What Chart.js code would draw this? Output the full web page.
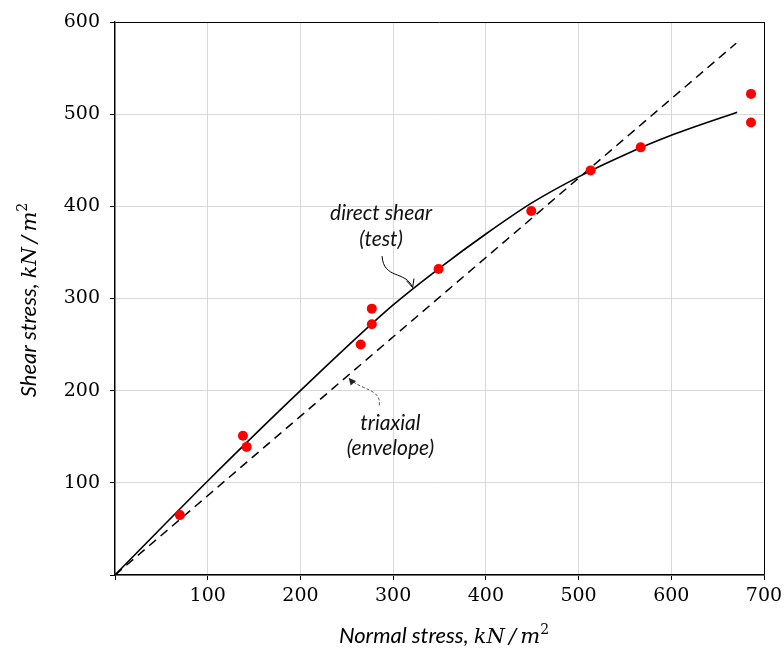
<!DOCTYPE html>
<html>
<head>
<meta charset="utf-8">
<script src="https://cdn.jsdelivr.net/npm/chart.js@4.4.1/dist/chart.umd.min.js"></script>
<style>
  html, body { margin: 0; padding: 0; background: #fff; }
  #wrap { width: 784px; height: 648px; }
</style>
</head>
<body>
<div id="wrap"><canvas id="chart" width="784" height="648"></canvas></div>
<script>
// test points (direct shear)
const testNormal = [70, 138, 142, 265, 277, 277, 349, 449, 513, 567, 686, 686];
const testShear = [65, 151, 139, 250, 272, 289, 332, 395, 439, 464, 522, 491];
// direct shear curve
const curveNormal = [0, 100, 200, 300, 350, 400, 450, 500, 550, 600, 671];
const curveShear = [0, 102, 200, 293, 333, 370, 404, 432, 456, 477, 502];
// triaxial envelope
const envelopeNormal = [0, 670];
const envelopeShear = [0, 577];
const xTicks = [0, 100, 200, 300, 400, 500, 600, 700];
const yTicks = [0, 100, 200, 300, 400, 500, 600];

const toPoints = (xs, ys) => xs.map((x, i) => ({ x, y: ys[i] }));

const SANS = "Lato, 'Open Sans', sans-serif";
const SERIF = "'DejaVu Serif', serif";

function drawParts(ctx, parts, cx, cy) {
  let total = 0;
  parts.forEach((p) => { ctx.font = p.font; total += ctx.measureText(p.text).width; });
  let x = cx - total / 2;
  ctx.textBaseline = "alphabetic";
  ctx.textAlign = "left";
  parts.forEach((p) => {
    ctx.font = p.font;
    ctx.fillText(p.text, x, cy + (p.dy || 0));
    x += ctx.measureText(p.text).width;
  });
}

function titleParts(label) {
  return [
    { text: label + " ", font: `italic 22px ${SANS}` },
    { text: "kN\u2009/\u2009m", font: `italic 21px ${SERIF}` },
    { text: "2", font: `14px ${SERIF}`, dy: -9 },
  ];
}

function arrowHead(ctx, tipX, tipY, fromX, fromY, size, filled) {
  const a = Math.atan2(tipY - fromY, tipX - fromX);
  ctx.beginPath();
  ctx.moveTo(tipX - size * Math.cos(a - 0.45), tipY - size * Math.sin(a - 0.45));
  ctx.lineTo(tipX, tipY);
  ctx.lineTo(tipX - size * Math.cos(a + 0.45), tipY - size * Math.sin(a + 0.45));
  if (filled) { ctx.closePath(); ctx.fill(); } else { ctx.stroke(); }
}

const annotations = {
  id: "annotations",
  afterDraw(chart) {
    const { ctx, scales } = chart;
    const px = (v) => scales.x.getPixelForValue(v);
    const py = (v) => scales.y.getPixelForValue(v);
    ctx.save();
    ctx.fillStyle = "#111";

    // curve labels
    ctx.font = `italic 21px ${SANS}`;
    ctx.textAlign = "center";
    ctx.textBaseline = "middle";
    ctx.fillText("direct shear", px(287), py(392));
    ctx.fillText("(test)", px(287), py(364));
    ctx.fillText("triaxial", px(297), py(165));
    ctx.fillText("(envelope)", px(297), py(138));

    // arrow to direct shear curve
    ctx.strokeStyle = "#000";
    ctx.lineWidth = 1;
    ctx.beginPath();
    ctx.moveTo(px(288), py(346));
    ctx.bezierCurveTo(px(290), py(320), px(313), py(331), px(321), py(312));
    ctx.stroke();
    arrowHead(ctx, px(321), py(312), px(318), py(322), 9, false);

    // arrow to triaxial envelope
    ctx.strokeStyle = "#555";
    ctx.fillStyle = "#222";
    ctx.setLineDash([3, 2]);
    ctx.beginPath();
    ctx.moveTo(px(285), py(184));
    ctx.bezierCurveTo(px(288), py(202), px(264), py(201), px(253), py(213));
    ctx.stroke();
    ctx.setLineDash([]);
    arrowHead(ctx, px(252), py(214), px(258), py(207), 8, true);

    // axis titles
    ctx.fillStyle = "#000";
    drawParts(ctx, titleParts("Normal stress,"), 444, 643);
    ctx.translate(36, 300);
    ctx.rotate(-Math.PI / 2);
    drawParts(ctx, titleParts("Shear stress,"), 0, 0);
    ctx.restore();
  },
};

const gridColor = (max) => (c) => (c.tick && c.tick.value === max ? "#000" : "#d9d9d9");

new Chart(document.getElementById("chart"), {
  type: "scatter",
  data: {
    datasets: [
      {
        label: "Test",
        data: toPoints(testNormal, testShear),
        backgroundColor: "#ff0000",
        borderColor: "#ff0000",
        pointRadius: 5,
        pointBorderWidth: 0,
      },
      {
        label: "Direct shear",
        data: toPoints(curveNormal, curveShear),
        showLine: true,
        borderColor: "#000",
        borderWidth: 1.6,
        pointRadius: 0,
        cubicInterpolationMode: "monotone",
      },
      {
        label: "Triaxial",
        data: toPoints(envelopeNormal, envelopeShear),
        showLine: true,
        borderColor: "#000",
        borderWidth: 1.5,
        borderDash: [9, 6],
        pointRadius: 0,
      },
    ],
  },
  options: {
    responsive: false,
    animation: false,
    layout: { padding: { top: 22, right: 20, left: 0, bottom: 0 } },
    plugins: { legend: { display: false }, tooltip: { enabled: false } },
    scales: {
      x: {
        type: "linear",
        min: 0,
        max: 700,
        afterBuildTicks: (scale) => { scale.ticks = xTicks.map((value) => ({ value })); },
        afterFit: (scale) => {
          scale.height = 73;
          scale.paddingRight = 0;
          scale.paddingLeft = 0;
        },
        grid: { color: gridColor(700), tickColor: "#000", tickLength: 5, lineWidth: 1 },
        border: { color: "#000", width: 1.4 },
        ticks: {
          color: "#000",
          padding: 5,
          font: { family: SERIF, size: 19 },
          callback: (v) => (v === 0 ? "" : v),
        },
      },
      y: {
        type: "linear",
        min: 0,
        max: 600,
        afterBuildTicks: (scale) => { scale.ticks = yTicks.map((value) => ({ value })); },
        afterFit: (scale) => { scale.width = 115; },
        grid: { color: gridColor(600), tickColor: "#000", tickLength: 5, lineWidth: 1 },
        border: { color: "#000", width: 1.4 },
        ticks: {
          color: "#000",
          padding: 10,
          font: { family: SERIF, size: 19 },
          callback: (v) => (v === 0 ? "" : v),
        },
      },
    },
  },
  plugins: [annotations],
});
</script>
</body>
</html>
